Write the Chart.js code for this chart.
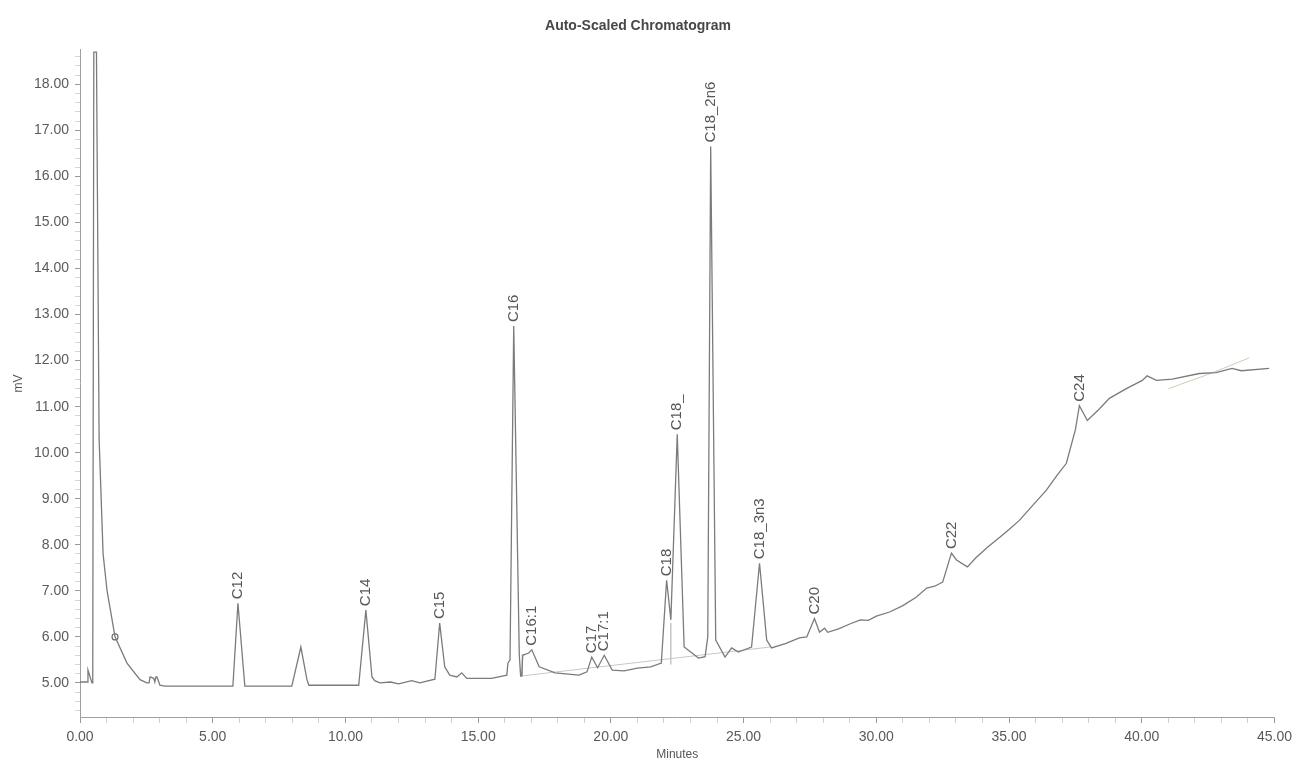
<!DOCTYPE html>
<html>
<head>
<meta charset="utf-8">
<script src="https://cdn.jsdelivr.net/npm/chart.js@4"></script>
<style>
  html, body { margin: 0; padding: 0; background: #ffffff; }
  #wrap { width: 1298px; height: 763px; }
</style>
</head>
<body>
<div id="wrap"><canvas id="c" width="1298" height="763"></canvas></div>
<script>
// ---- data (minutes, mV) ----
const times = [0.00, 0.28, 0.30, 0.45, 0.48, 0.52, 0.62, 0.72, 0.87, 1.02, 1.32, 1.77, 2.26, 2.52, 2.60, 2.64, 2.78, 2.82, 2.86, 2.90, 3.01, 3.20,
  5.00, 5.76, 5.95, 6.21, 6.40, 7.98, 8.32, 8.55, 8.62, 9.50, 10.50, 10.77, 11.00, 11.10, 11.30, 11.70, 12.00, 12.50, 12.80, 13.37,
  13.55, 13.74, 13.93, 14.20, 14.38, 14.57, 15.50, 16.08, 16.12, 16.20, 16.34, 16.55, 16.60, 16.64, 16.68, 16.90, 17.02, 17.30, 17.90,
  18.80, 19.10, 19.28, 19.50, 19.75, 20.05, 20.50, 21.00, 21.50, 21.90, 22.10, 22.26, 22.50, 22.76, 23.30, 23.55, 23.65, 23.76, 23.95,
  24.30, 24.55, 24.80, 25.30, 25.60, 25.87, 26.05, 26.60, 27.10, 27.38, 27.67, 27.86, 28.05, 28.17, 28.60, 29.00, 29.40, 29.70, 30.00, 30.50,
  31.00, 31.50, 31.90, 32.20, 32.50, 32.83, 33.02, 33.43, 33.77, 34.20, 34.64, 35.00, 35.39, 35.90, 36.40, 36.80, 37.16, 37.50, 37.65, 37.95,
  38.40, 38.78, 39.42, 40.02, 40.20, 40.55, 41.15, 42.17, 42.80, 43.40, 43.75, 44.80];
const signal = [5.02, 5.02, 5.28, 5.00, 5.00, 18.70, 18.70, 10.30, 7.80, 7.00, 6.00, 5.43, 5.07, 5.00, 5.00, 5.13, 5.10, 5.02, 5.13, 5.13, 4.95, 4.93,
  4.93, 4.93, 6.73, 4.93, 4.93, 4.93, 5.78, 5.07, 4.95, 4.95, 4.95, 6.58, 5.13, 5.05, 5.00, 5.02, 4.98, 5.05, 5.00, 5.08,
  6.30, 5.35, 5.17, 5.13, 5.22, 5.10, 5.10, 5.17, 5.43, 5.50, 12.75, 5.60, 5.15, 5.15, 5.60, 5.65, 5.72, 5.35, 5.22,
  5.17, 5.24, 5.56, 5.33, 5.60, 5.28, 5.26, 5.32, 5.35, 5.43, 7.23, 6.37, 10.40, 5.78, 5.54, 5.57, 6.00, 16.65, 5.93,
  5.56, 5.76, 5.67, 5.78, 7.60, 5.93, 5.76, 5.86, 5.98, 6.00, 6.40, 6.10, 6.19, 6.10, 6.18, 6.28, 6.37, 6.36, 6.45, 6.54,
  6.68, 6.86, 7.06, 7.10, 7.19, 7.82, 7.67, 7.52, 7.73, 7.95, 8.16, 8.33, 8.53, 8.86, 9.18, 9.50, 9.77, 10.50, 11.02, 10.70,
  10.95, 11.18, 11.39, 11.57, 11.67, 11.57, 11.60, 11.72, 11.74, 11.83, 11.78, 11.83];

// faint integration baseline, drop lines and the pencil line at the end
const baseTimes = [16.62, 26.00];
const baseValues = [5.15, 5.78];
const dropTimes = [16.66, 16.66, 16.66, 22.26, 22.26];
const dropValues = [5.15, 5.62, null, 5.40, 6.30];
const faintTimes = [41.00, 42.50, 44.05];
const faintValues = [11.39, 11.70, 12.06];
const markTimes = [1.32];
const markValues = [6.00];

// peak annotations
const peakNames = ['C12', 'C14', 'C15', 'C16', 'C16:1', 'C17', 'C17:1', 'C18', 'C18_', 'C18_2n6', 'C18_3n3', 'C20', 'C22', 'C24'];
const peakTimes = [5.95, 10.77, 13.55, 16.34, 17.02, 19.28, 19.75, 22.10, 22.50, 23.76, 25.60, 27.67, 32.83, 37.65];
const peakValues = [6.73, 6.58, 6.30, 12.75, 5.72, 5.56, 5.60, 7.23, 10.40, 16.65, 7.60, 6.40, 7.82, 11.02];

// axes
const xTickLabels = ['0.00', '5.00', '10.00', '15.00', '20.00', '25.00', '30.00', '35.00', '40.00', '45.00'];
const yTickLabels = ['5.00', '6.00', '7.00', '8.00', '9.00', '10.00', '11.00', '12.00', '13.00', '14.00', '15.00', '16.00', '17.00', '18.00'];
const chartTitle = 'Auto-Scaled Chromatogram';
const xTitle = 'Minutes';
const yTitle = 'mV';

const pts = (xs, ys) => xs.map((x, i) => ({ x: x, y: ys[i] }));

const peakLabelPlugin = {
  id: 'peakLabels',
  afterDatasetsDraw(chart) {
    const ctx = chart.ctx;
    const xs = chart.scales.x, ys = chart.scales.y;
    ctx.save();
    ctx.font = '15px "Liberation Sans", Arial, sans-serif';
    ctx.fillStyle = '#585858';
    ctx.textAlign = 'left';
    ctx.textBaseline = 'middle';
    peakNames.forEach((name, i) => {
      const px = xs.getPixelForValue(peakTimes[i]);
      const py = ys.getPixelForValue(peakValues[i]);
      ctx.save();
      ctx.translate(px, py - 4);
      ctx.rotate(-Math.PI / 2);
      ctx.fillText(name, 0, 0);
      ctx.restore();
    });
    ctx.restore();
  }
};

const lineStyle = { pointRadius: 0, tension: 0, fill: false };

new Chart(document.getElementById('c'), {
  type: 'line',
  data: {
    datasets: [
      Object.assign({ data: pts(times, signal), borderColor: '#7b7b7b', borderWidth: 1.3 }, lineStyle),
      Object.assign({ data: pts(baseTimes, baseValues), borderColor: '#c8c8c8', borderWidth: 1 }, lineStyle),
      Object.assign({ data: pts(dropTimes, dropValues), borderColor: '#a8a8a8', borderWidth: 1, spanGaps: false }, lineStyle),
      Object.assign({ data: pts(faintTimes, faintValues), borderColor: '#c9cfb8', borderWidth: 1 }, lineStyle),
      { data: pts(markTimes, markValues), showLine: false, pointRadius: 3, pointStyle: 'circle',
        pointBorderColor: '#6f6f6f', pointBackgroundColor: '#ffffff', pointBorderWidth: 1.2 }
    ]
  },
  options: {
    responsive: false,
    animation: false,
    events: [],
    layout: { padding: { left: 0, right: 22, top: 0, bottom: 0 } },
    plugins: {
      legend: { display: false },
      tooltip: { enabled: false },
      title: {
        display: true, text: chartTitle, color: '#474747',
        font: { family: '"Liberation Sans", Arial, sans-serif', size: 14, weight: 'bold' },
        padding: { top: 18, bottom: 15 }
      }
    },
    scales: {
      x: {
        type: 'linear', min: 0, max: 45,
        afterFit(s) { s.height = 46; },
        ticks: {
          stepSize: 1, autoSkip: false, maxRotation: 0, padding: 6, color: '#5a5a5a',
          font: { family: '"Liberation Sans", Arial, sans-serif', size: 14 },
          callback: (v) => (Math.abs(v % 5) < 1e-9 ? xTickLabels[Math.round(v / 5)] : '')
        },
        grid: {
          drawOnChartArea: false, drawTicks: true, tickLength: 6,
          color: (c) => (c.tick && Math.abs(c.tick.value % 5) < 1e-9 ? '#9a9a9a' : '#d0d0d0')
        },
        border: { display: true, color: '#a0a0a0', width: 1 },
        title: {
          display: true, text: xTitle, color: '#555',
          font: { family: '"Liberation Sans", Arial, sans-serif', size: 12 },
          padding: { top: 0, bottom: 1 }
        }
      },
      y: {
        type: 'linear', min: 4.26, max: 18.75,
        afterFit(s) { s.width = 80; },
        afterBuildTicks(s) {
          const t = [];
          for (let k = 22; k <= 93; k++) t.push({ value: k / 5 });
          s.ticks = t;
        },
        ticks: {
          autoSkip: false, padding: 6, color: '#5a5a5a',
          font: { family: '"Liberation Sans", Arial, sans-serif', size: 14 },
          callback: (v) => {
            const r = Math.round(v);
            return (Math.abs(v - r) < 1e-6 && r >= 5 && r <= 18) ? yTickLabels[r - 5] : '';
          }
        },
        grid: {
          drawOnChartArea: false, drawTicks: true, tickLength: 5,
          color: (c) => (c.tick && Math.abs(c.tick.value - Math.round(c.tick.value)) < 1e-6 ? '#9a9a9a' : '#d4d4d4')
        },
        border: { display: true, color: '#a0a0a0', width: 1 },
        title: {
          display: true, text: yTitle, color: '#555',
          font: { family: '"Liberation Sans", Arial, sans-serif', size: 12 },
          padding: { top: 11, bottom: 0 }
        }
      }
    }
  },
  plugins: [peakLabelPlugin]
});
</script>
</body>
</html>
